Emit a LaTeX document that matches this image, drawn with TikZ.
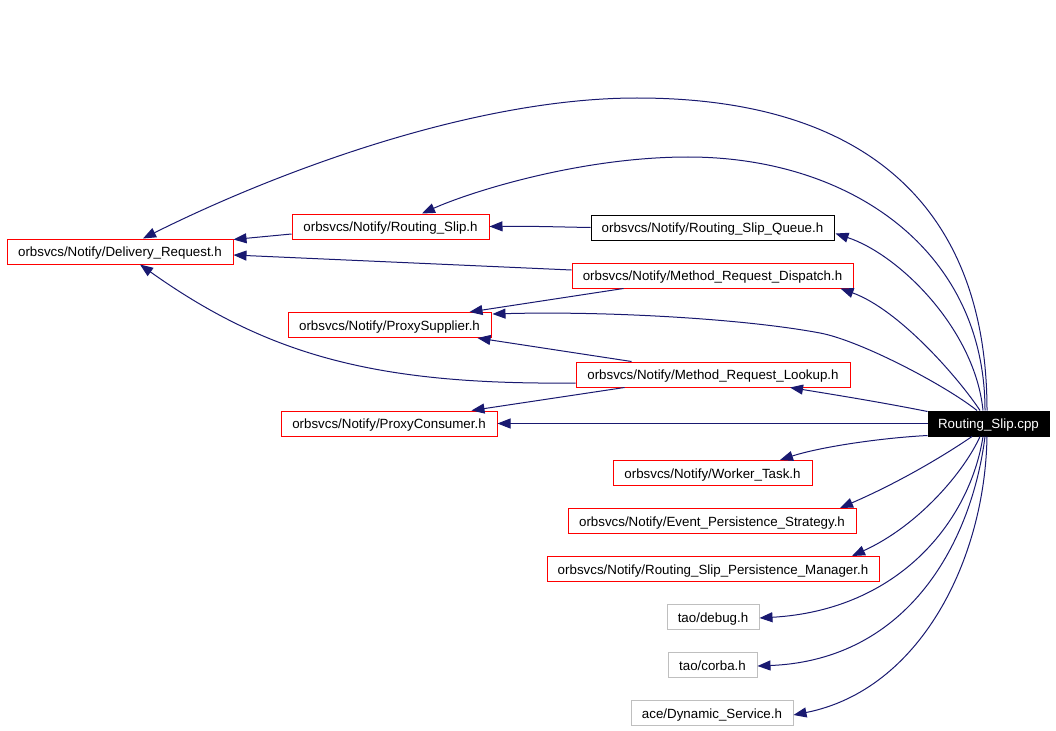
\documentclass[tikz,border=0pt]{standalone}
\usepackage{fontspec}
\setmainfont{Liberation Sans}
\usetikzlibrary{arrows.meta,calc}
\definecolor{edgeblue}{HTML}{191970}
\definecolor{boxred}{HTML}{FF0000}
\definecolor{boxgrey}{HTML}{BFBFBF}
\tikzset{
  filebox/.style={draw=boxred, line width=0.75pt, minimum height=18.75pt, inner sep=0pt,
    text height=8.5pt, text depth=1pt,
    font=\fontsize{10}{12}\selectfont, text=black},
  blackbox/.style={filebox, draw=black},
  greybox/.style={filebox, draw=boxgrey},
  rootbox/.style={filebox, draw=black, fill=black, text=white},
  dep/.style={draw=edgeblue, line width=0.75pt,
    -{Triangle[length=9.75pt,width=7.5pt,fill=edgeblue]}},
}
\begin{document}
\begin{tikzpicture}[x=0.75pt,y=-0.75pt]
\useasboundingbox (0,0) rectangle (1056,731);
\fill[white] (0,0) rectangle (1056,731);

% nodes
\node[rootbox, minimum width=90.75pt] (cpp) at (988.5,423.5) {Routing\_Slip.cpp};
\node[filebox, minimum width=169.5pt] (DR) at (120,251.5) {orbsvcs/Notify/Delivery\_Request.h};
\node[filebox, minimum width=147.75pt] (RS) at (390.5,226.5) {orbsvcs/Notify/Routing\_Slip.h};
\node[blackbox, minimum width=182.25pt] (RSQ) at (712.5,227.5) {orbsvcs/Notify/Routing\_Slip\_Queue.h};
\node[filebox, minimum width=210.75pt] (MRD) at (712.5,275.5) {orbsvcs/Notify/Method\_Request\_Dispatch.h};
\node[filebox, minimum width=152.25pt] (PS) at (389.5,325) {orbsvcs/Notify/ProxySupplier.h};
\node[filebox, minimum width=205.5pt] (MRL) at (713,374.5) {orbsvcs/Notify/Method\_Request\_Lookup.h};
\node[filebox, minimum width=162pt] (PC) at (389,423.5) {orbsvcs/Notify/ProxyConsumer.h};
\node[filebox, minimum width=149.25pt] (WT) at (712.5,473) {orbsvcs/Notify/Worker\_Task.h};
\node[filebox, minimum width=216pt] (EPS) at (712,521) {orbsvcs/Notify/Event\_Persistence\_Strategy.h};
\node[filebox, minimum width=249pt] (RSPM) at (713,569) {orbsvcs/Notify/Routing\_Slip\_Persistence\_Manager.h};
\node[greybox, minimum width=69pt] (debug) at (713,617) {tao/debug.h};
\node[greybox, minimum width=66.75pt] (corba) at (712.5,665) {tao/corba.h};
\node[greybox, minimum width=121.5pt] (DS) at (712,713) {ace/Dynamic\_Service.h};

% edges from Routing_Slip.cpp
\draw[dep] ($(cpp.north)+(-1.5,0)$) .. controls (987,220) and (880,98) .. (637,98)
  .. controls (470,98) and (270,175) .. ($(DR.north)+(23,0)$);
\draw[dep] ($(cpp.north)+(-3.5,0)$) .. controls (985,250) and (850,157) .. (688,157)
  .. controls (580,157) and (470,192) .. ($(RS.north)+(31.5,0)$);
\draw[dep] ($(cpp.north)+(-5.5,0)$) .. controls (975,330) and (900,255) .. ($(RSQ.south east)+(1,-7)$);
\draw[dep] ($(cpp.north)+(-8.5,0)$) .. controls (960,380) and (900,310) .. ($(MRD.south east)+(-13,0)$);
\draw[dep] ($(cpp.north)+(-11.5,0)$) .. controls (945,385) and (860,340.5) .. (820,333)
  .. controls (740,318) and (600,311) .. ($(PS.north east)+(1,2)$);
\draw[dep] ($(cpp.north west)+(0,1)$) .. controls (880,402) and (830,394) .. ($(MRL.south)+(77,0)$);
\draw[dep] (cpp.west) -- (PC.east);
\draw[dep] ($(cpp.south west)+(0,-1)$) .. controls (880,438) and (820,447) .. ($(WT.north)+(67.5,0)$);
\draw[dep] ($(cpp.south)+(-16.5,0)$) .. controls (945,455) and (900,482) .. ($(EPS.north)+(128,0)$);
\draw[dep] ($(cpp.south)+(-8.5,0)$) .. controls (965,470) and (920,525) .. ($(RSPM.north)+(139,0)$);
\draw[dep] ($(cpp.south)+(-5.5,0)$) .. controls (970,520) and (900,610) .. ($(debug.east)+(0,1)$);
\draw[dep] ($(cpp.south)+(-3.5,0)$) .. controls (972,540) and (910,660) .. ($(corba.east)+(0,1)$);
\draw[dep] ($(cpp.south)+(-1.5,0)$) .. controls (985,560) and (920,690) .. ($(DS.east)+(0,2)$);

% other edges
\draw[dep] ($(RS.west)+(0,7.5)$) -- ($(DR.north east)+(0,1)$);
\draw[dep] (RSQ.west) .. controls (560,227) and (530,226) .. (RS.east);
\draw[dep] ($(MRD.west)+(0,-5.5)$) -- ($(DR.east)+(0,3.5)$);
\draw[dep] ($(MRD.south west)+(52,0)$) -- ($(PS.north east)+(-22,0)$);
\draw[dep] ($(MRL.north west)+(56,0)$) -- ($(PS.south east)+(-14,0)$);
\draw[dep] ($(MRL.west)+(0,8.5)$) .. controls (380,385) and (270,357) .. ($(DR.south)+(20,0)$);
\draw[dep] ($(MRL.south west)+(49,0)$) -- ($(PC.north east)+(-26,0)$);
\end{tikzpicture}
\end{document}
